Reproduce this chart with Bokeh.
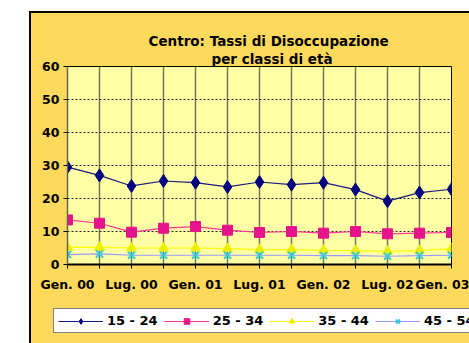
from bokeh.plotting import figure
from bokeh.layouts import column, row
from bokeh.models import (ColumnDataSource, FixedTicker, Legend, LegendItem, Title, Range1d)
from bokeh.embed import file_html
from bokeh.resources import INLINE

# ---- data ----
periods = ["Gen. 00", "Apr. 00", "Lug. 00", "Ott. 00", "Gen. 01", "Apr. 01", "Lug. 01",
           "Ott. 01", "Gen. 02", "Apr. 02", "Lug. 02", "Ott. 02", "Gen. 03"]
tick_labels = ["Gen. 00", "", "Lug. 00", "", "Gen. 01", "", "Lug. 01", "",
               "Gen. 02", "", "Lug. 02", "", "Gen. 03"]
s15_24 = [29.5, 27.0, 23.8, 25.3, 24.8, 23.5, 25.0, 24.2, 24.8, 22.7, 19.2, 21.8, 22.8]
s25_34 = [13.5, 12.5, 9.8, 11.0, 11.5, 10.4, 9.7, 10.0, 9.5, 10.0, 9.3, 9.5, 9.7]
s35_44 = [5.2, 5.2, 5.0, 5.0, 5.0, 4.8, 4.5, 4.5, 4.3, 4.2, 4.0, 4.2, 4.8]
s45_54 = [3.0, 3.2, 2.8, 2.8, 2.8, 2.8, 2.8, 2.8, 2.7, 2.7, 2.5, 2.7, 2.8]
series_names = ["15 - 24", "25 - 34", "35 - 44", "45 - 54"]
y_ticks = [0, 10, 20, 30, 40, 50, 60]

FONT = "DejaVu Sans"
OUTER = "#FFD95C"
x = list(range(len(periods)))
src = ColumnDataSource(dict(x=x, a=s15_24, b=s25_34, c=s35_44, d=s45_54))

p = figure(width=438, height=287, output_backend="svg", toolbar_location=None,
           x_range=Range1d(0, len(periods) - 1), y_range=Range1d(0, 60),
           min_border_left=36, min_border_right=18, min_border_top=53, min_border_bottom=36)
p.border_fill_color = OUTER
p.background_fill_color = "#FFFFA6"
p.outline_line_color = "black"
p.outline_line_width = 1

# titles
t2 = Title(text="per classi di età", align="left", offset=144,
           text_font=FONT, text_font_size="13.5px", text_font_style="bold", text_color="black",
           standoff=0)
t1 = Title(text="Centro: Tassi di Disoccupazione", align="left", offset=81,
           text_font=FONT, text_font_size="13.5px", text_font_style="bold", text_color="black",
           standoff=0)
p.add_layout(t2, "above")
p.add_layout(t1, "above")

# axes
p.xaxis.ticker = FixedTicker(ticks=x)
p.xaxis.major_label_overrides = {i: lab for i, lab in enumerate(tick_labels)}
p.yaxis.ticker = FixedTicker(ticks=y_ticks)
for ax in (p.xaxis[0], p.yaxis[0]):
    ax.major_label_text_font = FONT
    ax.major_label_text_font_style = "bold"
    ax.major_label_text_color = "black"
    ax.major_tick_in = 0
    ax.major_tick_out = 4
    ax.minor_tick_out = 0
    ax.minor_tick_in = 0
    ax.major_tick_line_color = "black"
p.xaxis.major_label_text_font_size = "12.5px"
p.yaxis.major_label_text_font_size = "12.5px"
p.xaxis.axis_line_width = 2
p.xaxis.axis_line_color = "black"
p.xaxis.major_label_standoff = 8
p.yaxis.axis_line_color = "#666650"
p.yaxis.axis_line_width = 1.5
p.yaxis.major_label_standoff = 4

p.xgrid.ticker = FixedTicker(ticks=x)
p.xgrid.grid_line_color = "#777755"
p.xgrid.grid_line_width = 1.5
p.ygrid.ticker = FixedTicker(ticks=y_ticks)
p.ygrid.grid_line_color = "#222222"
p.ygrid.grid_line_dash = "2 2"
p.ygrid.grid_line_width = 1

# series
styles = [
    ("a", "#1A1A80", "#000080", "diamond", 13),
    ("b", "#FF3399", "#E6148C", "square", 10),
    ("c", "#FFFF00", "#EEEE00", "triangle", 10),
    ("d", "#9999FF", "#33CCDD", "x", 10),
]
for (col, lc, mc, mk, sz) in styles:
    p.line("x", col, source=src, line_color=lc, line_width=1.2)
    p.scatter("x", col, source=src, marker=mk, size=sz, fill_color=mc,
              line_color=mc, line_width=2 if mk == "x" else 1)

# legend strip (own small figure so the legend is not clipped by the chart frame);
# its renderers use the same data but the strip's ranges keep them out of view
p2 = figure(width=438, height=43, output_backend="svg", toolbar_location=None,
            x_range=Range1d(100, 101), y_range=Range1d(100, 101),
            x_axis_type=None, y_axis_type=None,
            min_border_left=0, min_border_right=0, min_border_top=0, min_border_bottom=0)
p2.border_fill_color = OUTER
p2.background_fill_color = OUTER
p2.outline_line_color = None
items = []
for (col, lc, mc, mk, sz), name in zip(styles, series_names):
    ln = p2.line("x", col, source=src, line_color=lc, line_width=1.2)
    sc = p2.scatter("x", col, source=src, marker=mk, size=sz - 2, fill_color=mc,
                    line_color=mc, line_width=2 if mk == "x" else 1)
    items.append(LegendItem(label=name, renderers=[ln, sc]))
legend = Legend(items=items, orientation="horizontal", location=(22, 10),
                background_fill_color="white", background_fill_alpha=1,
                border_line_color="black", border_line_width=1,
                label_text_font=FONT, label_text_font_size="13px", label_text_font_style="bold",
                label_text_color="black", glyph_width=45, glyph_height=14,
                label_standoff=4, spacing=6, padding=4, margin=0)
p2.add_layout(legend, "center")

layout = column(p, row(p2, spacing=0), spacing=0)
layout.margin = (11, 0, 0, 29)
layout.styles = {"border-left": "2px solid black", "border-top": "2px solid black",
                 "background-color": OUTER}

open("out.html", "w").write(file_html(layout, INLINE))
